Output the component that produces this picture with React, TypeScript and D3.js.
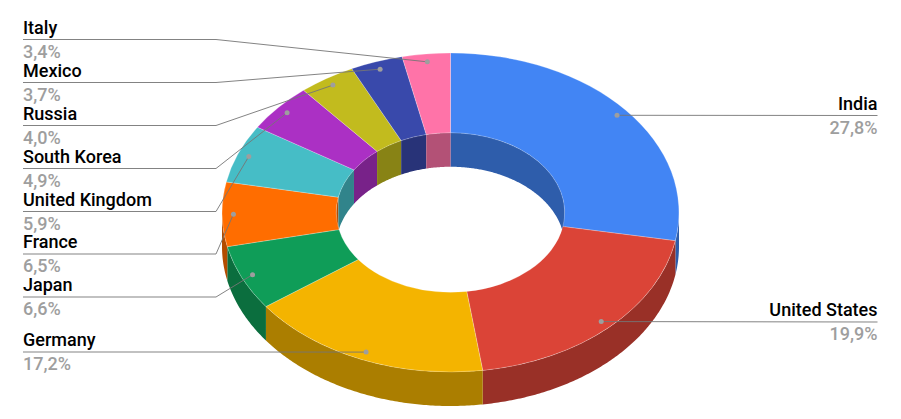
import React from "react";
import * as d3 from "d3";

const countries = ["India", "United States", "Germany", "Japan", "France", "United Kingdom", "South Korea", "Russia", "Mexico", "Italy"];
const shares = [27.8, 19.9, 17.2, 6.6, 6.5, 5.9, 4.9, 4.0, 3.7, 3.4];
const shareLabels = ["27,8%", "19,9%", "17,2%", "6,6%", "6,5%", "5,9%", "4,9%", "4,0%", "3,7%", "3,4%"];
const sliceColors = ["#4285F4", "#DB4437", "#F4B400", "#0F9D58", "#FF6D00", "#46BDC6", "#AB30C4", "#C2BB1E", "#3949AB", "#FF73A8"];
// Layout: y of each label's underline, same order as countries
const labelLineY = [115.5, 322, 352, 297, 254, 211.5, 168.5, 125.5, 82.5, 39.5];

const W = 901, H = 419;
const cx = 450.5, cy = 212.5, rx = 228.5, ry = 159.5, depth = 34, hole = 0.5;
const leftX = 23, rightX = 877.5, elbowX = 216;
const HALF = Math.PI / 2;

const px = (a: number, k: number) => cx + rx * k * Math.sin(a);
const py = (a: number, k: number) => cy - ry * k * Math.cos(a);

const dark = (c: string) => {
  const r = d3.rgb(c);
  return d3.rgb(r.r * 0.7, r.g * 0.7, r.b * 0.7).formatHex();
};

const line = d3.line<[number, number]>();

function wall(a0: number, a1: number, k: number) {
  const steps = Math.max(2, Math.ceil((a1 - a0) / 0.01));
  const angles = d3.range(steps + 1).map((i) => a0 + ((a1 - a0) * i) / steps);
  const top = angles.map((a) => [px(a, k), py(a, k)] as [number, number]);
  const bottom = angles.slice().reverse().map((a) => [px(a, k), py(a, k) + depth] as [number, number]);
  return line([...top, ...bottom]) + "Z";
}

export default function App() {
  const arcs = d3.pie<number>().sort(null).value((d) => d)(shares);
  const face = d3.arc<d3.PieArcDatum<number>>().innerRadius(hole).outerRadius(1);

  const innerWalls: React.ReactNode[] = [];
  const outerWalls: React.ReactNode[] = [];
  arcs.forEach((s, i) => {
    const col = dark(sliceColors[i]);
    // outer wall: front half only
    const o0 = Math.max(s.startAngle, HALF), o1 = Math.min(s.endAngle, 3 * HALF);
    if (o1 > o0) outerWalls.push(<path key={i} d={wall(o0, o1, 1)} fill={col} />);
    // inner wall: back half only
    const ranges: [number, number][] = [
      [Math.max(s.startAngle, 0), Math.min(s.endAngle, HALF)],
      [Math.max(s.startAngle, 3 * HALF), Math.min(s.endAngle, 2 * Math.PI)],
    ];
    ranges.forEach(([a, b], j) => {
      if (b > a) innerWalls.push(<path key={i + "-" + j} d={wall(a, b, hole)} fill={col} />);
    });
  });

  return (
    <svg width={W} height={H} viewBox={`0 0 ${W} ${H}`} style={{ position: "absolute", left: 0, top: 0, display: "block", fontFamily: "Roboto" }}>
      <rect width={W} height={H} fill="#fff" />
      {innerWalls}
      {outerWalls}
      <g transform={`translate(${cx},${cy}) scale(${rx},${ry})`}>
        {arcs.map((s, i) => (
          <path key={i} d={face(s) as string} fill={sliceColors[i]} stroke="#fff" strokeOpacity={0.35} strokeWidth={0.7} vectorEffect="non-scaling-stroke" />
        ))}
      </g>
      {arcs.map((s, i) => {
        const mid = (s.startAngle + s.endAngle) / 2;
        const dx = px(mid, 0.95), dy = py(mid, 0.95);
        const right = mid < Math.PI;
        const y = labelLineY[i];
        const pts: [number, number][] = right
          ? [[dx, dy], [rightX, y]]
          : [[dx, dy], [elbowX, y], [leftX, y]];
        const tx = right ? rightX : leftX;
        return (
          <g key={i}>
            <path d={line(pts) as string} fill="none" stroke="#757575" strokeOpacity={0.9} strokeWidth={1} />
            <circle cx={dx} cy={dy} r={2.5} fill="#9E9E9E" />
            <text x={tx} y={y - 6} textAnchor={right ? "end" : "start"} fontSize={18} fontWeight={500} fill="#000">{countries[i]}</text>
            <text x={tx} y={y + 18} textAnchor={right ? "end" : "start"} fontSize={18} fontWeight={500} fill="#9E9E9E">{shareLabels[i]}</text>
          </g>
        );
      })}
    </svg>
  );
}
